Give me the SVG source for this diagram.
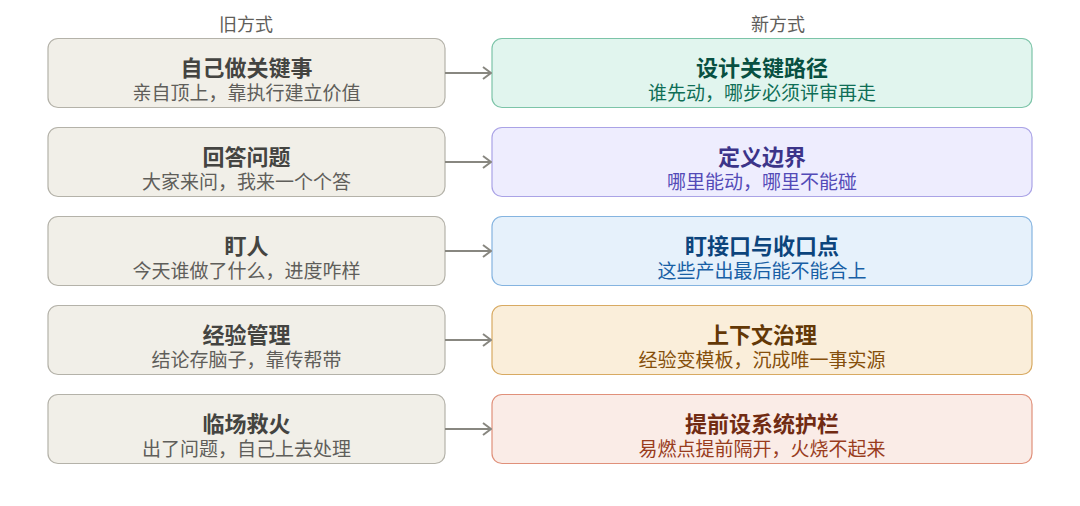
<svg xmlns="http://www.w3.org/2000/svg" width="1080" height="506" viewBox="0 0 1080 506">
<style>
text{font-family:"Noto Sans CJK SC","Noto Sans",sans-serif;text-anchor:middle}
.h{font-size:18px;fill:#5f5e5a}
.t{font-size:22px;font-weight:600}
.s{font-size:19px}
.g rect{fill:#f1efe8;stroke:#b4b2a9}
.g .t{fill:#444441}.g .s{fill:#5f5e5a}
.tl rect{fill:#e1f5ee;stroke:#7cc4a8}
.tl .t{fill:#085041}.tl .s{fill:#0f6e56}
.pu rect{fill:#eeedfe;stroke:#aaa3e6}
.pu .t{fill:#3c3489}.pu .s{fill:#534ab7}
.bl rect{fill:#e6f1fb;stroke:#85b4e0}
.bl .t{fill:#0c447c}.bl .s{fill:#185fa5}
.am rect{fill:#faeeda;stroke:#d8aa62}
.am .t{fill:#633806}.am .s{fill:#854f0b}
.co rect{fill:#faece7;stroke:#e0907a}
.co .t{fill:#712b13}.co .s{fill:#993c1d}
rect{stroke-width:1.2}
.c line{stroke:#888780;stroke-width:2}
</style>
<defs>
<marker id="a" viewBox="0 0 10 14" refX="9" refY="7" markerWidth="10" markerHeight="14" orient="auto" markerUnits="userSpaceOnUse">
<path d="M1,1 L9,7 L1,13" fill="none" stroke="#888780" stroke-width="2"/>
</marker>
</defs>
<text class="h" x="246" y="31">旧方式</text>
<text class="h" x="778" y="31">新方式</text>
<g id="old1" class="g"><rect x="48" y="38.5" width="397" height="69" rx="10"/><text class="t" x="246.5" y="76">自己做关键事</text><text class="s" x="246.5" y="100">亲自顶上，靠执行建立价值</text></g>
<g id="old2" class="g"><rect x="48" y="127.5" width="397" height="69" rx="10"/><text class="t" x="246.5" y="165">回答问题</text><text class="s" x="246.5" y="189">大家来问，我来一个个答</text></g>
<g id="old3" class="g"><rect x="48" y="216.5" width="397" height="69" rx="10"/><text class="t" x="246.5" y="254">盯人</text><text class="s" x="246.5" y="278">今天谁做了什么，进度咋样</text></g>
<g id="old4" class="g"><rect x="48" y="305.5" width="397" height="69" rx="10"/><text class="t" x="246.5" y="343">经验管理</text><text class="s" x="246.5" y="367">结论存脑子，靠传帮带</text></g>
<g id="old5" class="g"><rect x="48" y="394.5" width="397" height="69" rx="10"/><text class="t" x="246.5" y="432">临场救火</text><text class="s" x="246.5" y="456">出了问题，自己上去处理</text></g>
<g id="new1" class="tl"><rect x="492" y="38.5" width="540" height="69" rx="10"/><text class="t" x="762" y="76">设计关键路径</text><text class="s" x="762" y="100">谁先动，哪步必须评审再走</text></g>
<g id="new2" class="pu"><rect x="492" y="127.5" width="540" height="69" rx="10"/><text class="t" x="762" y="165">定义边界</text><text class="s" x="762" y="189">哪里能动，哪里不能碰</text></g>
<g id="new3" class="bl"><rect x="492" y="216.5" width="540" height="69" rx="10"/><text class="t" x="762" y="254">盯接口与收口点</text><text class="s" x="762" y="278">这些产出最后能不能合上</text></g>
<g id="new4" class="am"><rect x="492" y="305.5" width="540" height="69" rx="10"/><text class="t" x="762" y="343">上下文治理</text><text class="s" x="762" y="367">经验变模板，沉成唯一事实源</text></g>
<g id="new5" class="co"><rect x="492" y="394.5" width="540" height="69" rx="10"/><text class="t" x="762" y="432">提前设系统护栏</text><text class="s" x="762" y="456">易燃点提前隔开，火烧不起来</text></g>
<g id="connectors" class="c">
<line x1="445" y1="73" x2="491" y2="73" marker-end="url(#a)"/>
<line x1="445" y1="162" x2="491" y2="162" marker-end="url(#a)"/>
<line x1="445" y1="251" x2="491" y2="251" marker-end="url(#a)"/>
<line x1="445" y1="340" x2="491" y2="340" marker-end="url(#a)"/>
<line x1="445" y1="429" x2="491" y2="429" marker-end="url(#a)"/>
</g>
</svg>
